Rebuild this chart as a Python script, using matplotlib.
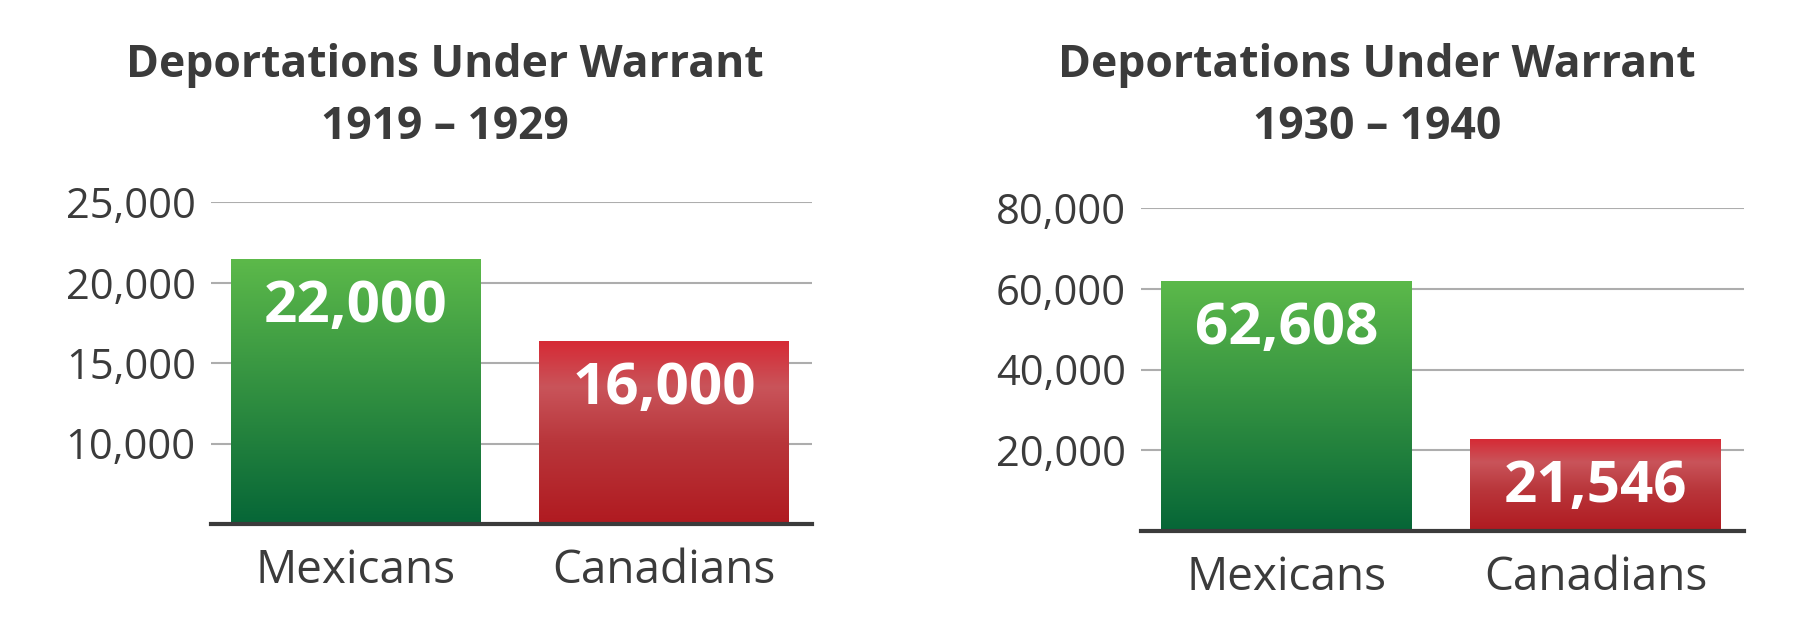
import numpy as np
import matplotlib.pyplot as plt
from matplotlib.colors import LinearSegmentedColormap
from matplotlib.ticker import FuncFormatter

# bar heights as drawn, printed labels as shown on the bars
categories = ["Mexicans", "Canadians"]
left_heights = [21450, 16350]
left_labels = ["22,000", "16,000"]
left_ticks = [10000, 15000, 20000, 25000]
right_heights = [61800, 22700]
right_labels = ["62,608", "21,546"]
right_ticks = [20000, 40000, 60000, 80000]

TXT = "#3b3b3b"
GRID = "#adadad"
green_cmap = LinearSegmentedColormap.from_list("g", [(0, "#066637"), (1, "#5cb94a")])
red_cmap = LinearSegmentedColormap.from_list(
    "r", [(0, "#b01a20"), (0.45, "#b9363b"), (0.75, "#c9545a"), (1, "#d62a35")])

TITLE_FONT = ["Open Sans", "DejaVu Sans"]
BODY_FONT = ["Open Sans", "DejaVu Sans"]


def gradient_bar(ax, bar, cmap):
    x0, y0 = bar.get_x(), bar.get_y()
    w, h = bar.get_width(), bar.get_height()
    grad = np.linspace(0, 1, 256).reshape(-1, 1)
    im = ax.imshow(grad, cmap=cmap, origin="lower", aspect="auto",
                   extent=(x0, x0 + w, y0, y0 + h), zorder=2)
    im.set_clip_path(bar)
    bar.set_facecolor("none")


def draw_panel(ax, heights, labels, ticks, ymin, ymax):
    x = np.arange(len(categories))
    bars = ax.bar(x, np.array(heights) - ymin, bottom=ymin, width=0.81,
                  edgecolor="none", zorder=2)
    for b, cmap in zip(bars, [green_cmap, red_cmap]):
        gradient_bar(ax, b, cmap)
    for xi, h, lab in zip(x, heights, labels):
        ax.annotate(lab, (xi, h), xytext=(0, -45), textcoords="offset points",
                    ha="center", va="baseline", color="white", fontsize=42,
                    fontweight="bold", family=TITLE_FONT, zorder=4)
    ax.set_xlim(-0.47, 1.48)
    ax.set_ylim(ymin, ymax)
    ax.set_yticks(ticks)
    ax.yaxis.set_major_formatter(FuncFormatter(lambda v, p: f"{int(v):,}"))
    ax.set_xticks(x)
    ax.set_xticklabels(categories)
    ax.grid(axis="y", color=GRID, linewidth=1.5, zorder=1)
    ax.set_axisbelow(True)
    for s in ["top", "right", "left"]:
        ax.spines[s].set_visible(False)
    ax.spines["bottom"].set_color(TXT)
    ax.spines["bottom"].set_linewidth(3)
    ax.spines["bottom"].set_zorder(5)
    ax.tick_params(axis="y", length=0, pad=11, labelsize=30, labelcolor=TXT)
    ax.tick_params(axis="x", length=0, pad=17, labelsize=33, labelcolor=TXT)
    for t in ax.get_xticklabels() + ax.get_yticklabels():
        t.set_family(BODY_FONT)


fig = plt.figure(figsize=(18, 6.22), dpi=100)
ax1 = fig.add_axes([211 / 1800, 1 - 524 / 622, 601 / 1800, 322 / 622])
ax2 = fig.add_axes([1141 / 1800, 1 - 531 / 622, 603 / 1800, 323 / 622])
draw_panel(ax1, left_heights, left_labels, left_ticks, 5000, 25000)
draw_panel(ax2, right_heights, right_labels, right_ticks, 0, 80000)

for cx, years in [(445, "1919 \u2013 1929"), (1377, "1930 \u2013 1940")]:
    fig.text(cx / 1800, 1 - 65 / 622, "Deportations Under Warrant", ha="center",
             va="center", fontsize=32, fontweight="bold", color=TXT, family=TITLE_FONT)
    fig.text(cx / 1800, 1 - 128 / 622, years, ha="center", va="center",
             fontsize=32, fontweight="bold", color=TXT, family=TITLE_FONT)

fig.savefig("out.png", dpi=100, facecolor="white")
